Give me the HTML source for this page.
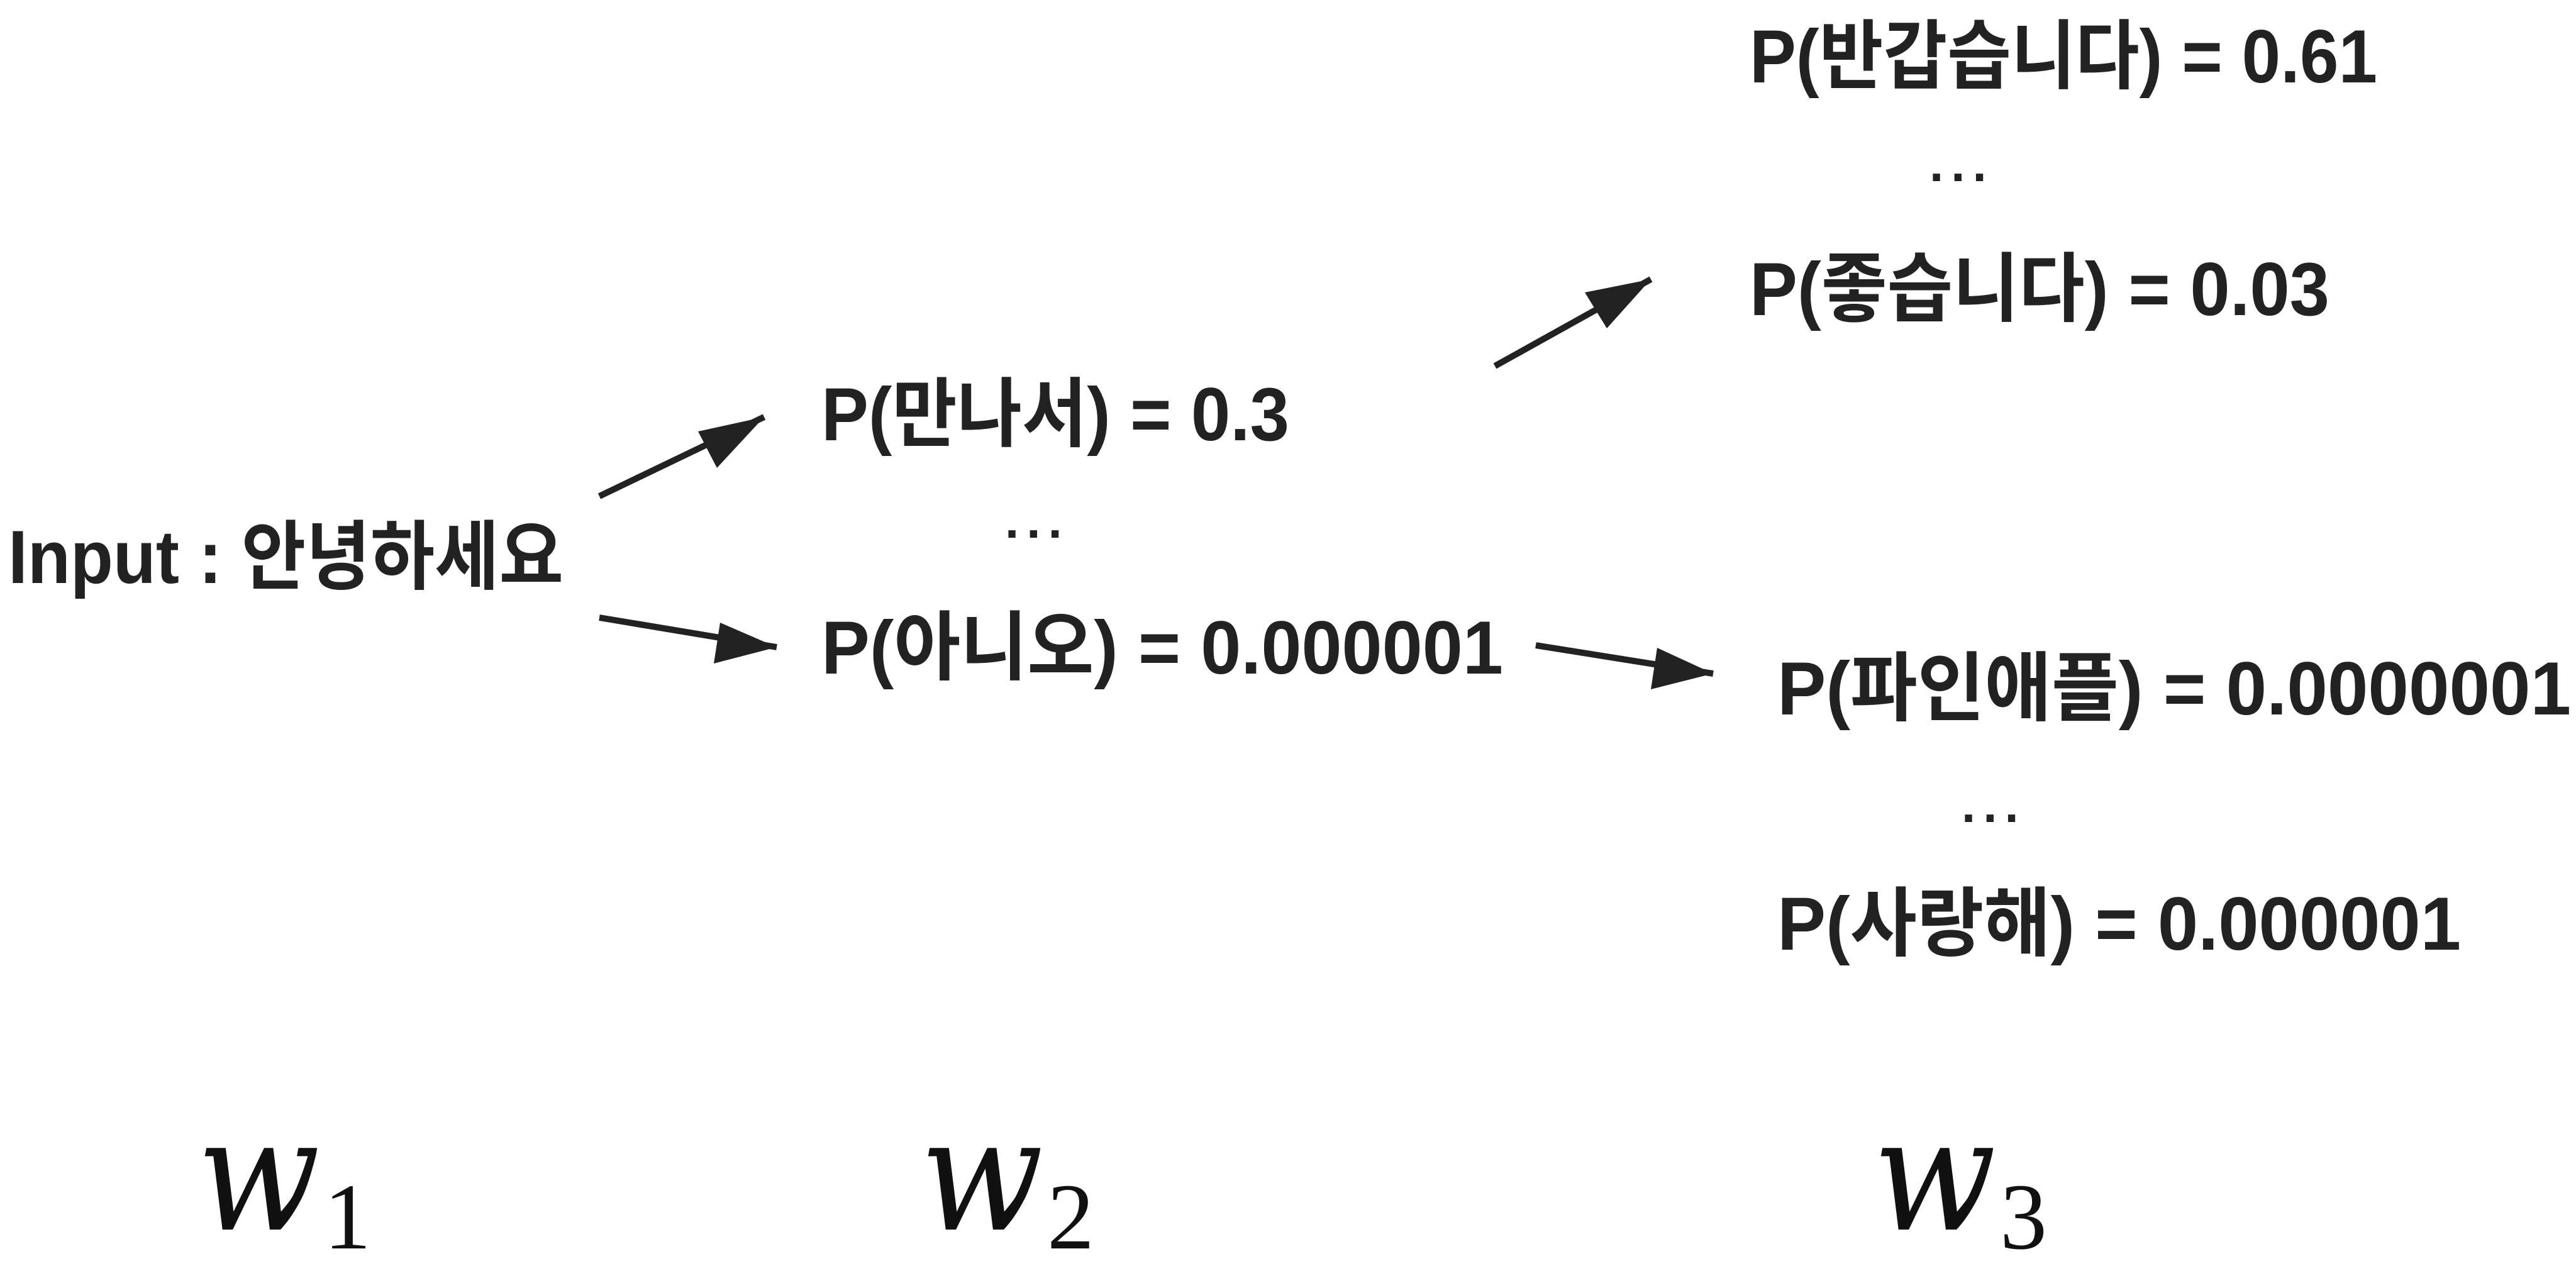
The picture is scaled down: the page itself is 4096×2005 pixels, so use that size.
<!DOCTYPE html>
<html><head><meta charset="utf-8"><style>
html,body{margin:0;padding:0;background:#fff;}
svg{display:block;}
.t{font-family:"Liberation Sans","Noto Sans CJK KR","NanumGothic",sans-serif;font-weight:bold;fill:#222;font-size:120px;}
.d{font-family:"Liberation Sans",sans-serif;font-weight:bold;fill:#222;font-size:80px;letter-spacing:12px;}
.w{font-family:"DejaVu Serif","Liberation Serif",serif;font-style:italic;fill:#111;font-size:250px;}
.s{font-family:"Liberation Serif",serif;fill:#111;font-size:150px;}
</style></head><body>
<svg width="4096" height="2005" viewBox="0 0 4096 2005" xmlns="http://www.w3.org/2000/svg">
<g stroke="#222" stroke-width="10" fill="none">
<line x1="953" y1="789" x2="1215" y2="663"/>
<line x1="953" y1="982" x2="1235" y2="1029"/>
<line x1="2377" y1="582" x2="2625" y2="444"/>
<line x1="2442" y1="1026" x2="2724" y2="1071"/>
</g>
<g fill="#222">
<polygon points="1215,663 1110,686 1140,744"/>
<polygon points="1235,1029 1145,990 1135,1055"/>
<polygon points="2625,444 2520,465 2555,522"/>
<polygon points="2724,1071 2635,1030 2625,1096"/>
</g>
<text class="t" x="13" y="927" textLength="883" lengthAdjust="spacingAndGlyphs">Input : 안녕하세요</text>
<text class="t" x="1306" y="700" textLength="744" lengthAdjust="spacingAndGlyphs">P(만나서) = 0.3</text>
<text class="d" x="1598" y="855">...</text>
<text class="t" x="1306" y="1071" textLength="1084" lengthAdjust="spacingAndGlyphs">P(아니오) = 0.000001</text>
<text class="t" x="2782" y="131" textLength="998" lengthAdjust="spacingAndGlyphs">P(반갑습니다) = 0.61</text>
<text class="d" x="3068" y="288">...</text>
<text class="t" x="2782" y="501" textLength="922" lengthAdjust="spacingAndGlyphs">P(좋습니다) = 0.03</text>
<text class="t" x="2826" y="1136" textLength="1262" lengthAdjust="spacingAndGlyphs">P(파인애플) = 0.0000001</text>
<text class="d" x="3119" y="1307">...</text>
<text class="t" x="2826" y="1510" textLength="1087" lengthAdjust="spacingAndGlyphs">P(사랑해) = 0.000001</text>
<g><text class="w" x="313" y="1955" textLength="196" lengthAdjust="spacingAndGlyphs">w</text><text class="s" x="515" y="1985">1</text></g>
<g><text class="w" x="1463" y="1955" textLength="196" lengthAdjust="spacingAndGlyphs">w</text><text class="s" x="1665" y="1985">2</text></g>
<g><text class="w" x="2978" y="1955" textLength="196" lengthAdjust="spacingAndGlyphs">w</text><text class="s" x="3180" y="1985">3</text></g>
</svg>
</body></html>
